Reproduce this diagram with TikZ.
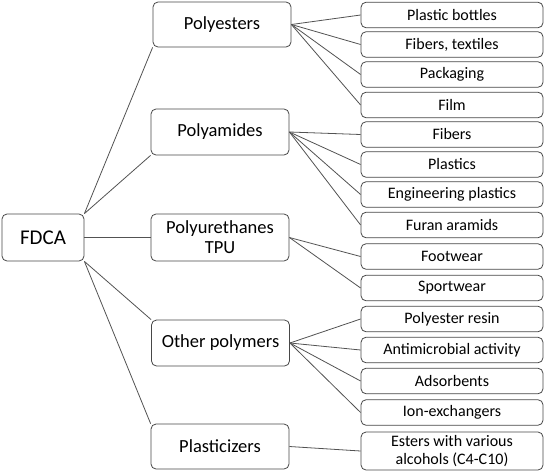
\documentclass[tikz,border=0pt]{standalone}
\usepackage{fontspec}
\setmainfont{Carlito}
\begin{document}
\begin{tikzpicture}[x=1pt,y=-1pt,
  box/.style={draw=black!72, line width=0.8pt, rounded corners=5pt, inner sep=0pt, align=center, text=black},
  root/.style={box, minimum width=82pt, minimum height=47pt, font=\fontsize{21}{24}\selectfont},
  cat/.style={box, minimum width=138pt, minimum height=46pt, font=\fontsize{18.5}{20}\selectfont},
  item/.style={box, minimum width=182pt, minimum height=25.5pt, font=\fontsize{16}{18}\selectfont},
  link/.style={draw=black!68, line width=0.8pt}]
\useasboundingbox (0,0) rectangle (545,471);
\node[root] (fdca) at (43,237.5) {FDCA};
\node[cat, minimum height=45pt] (pes) at (222,24.5) {Polyesters};
\node[cat] (pam) at (220,132) {Polyamides};
\node[cat, minimum height=47pt] (pur) at (220,237.5) {Polyurethanes\\TPU};
\node[cat] (oth) at (220.5,343) {Other polymers};
\node[cat, minimum height=45pt] (pla) at (220,446.5) {Plasticizers};
\node[item] (i1) at (452,15) {Plastic bottles};
\node[item] (i2) at (452,44.5) {Fibers, textiles};
\node[item] (i3) at (452,74.5) {Packaging};
\node[item] (i4) at (452,105) {Film};
\node[item] (i5) at (452,134.5) {Fibers};
\node[item] (i6) at (452,164.5) {Plastics};
\node[item] (i7) at (452,194.5) {Engineering plastics};
\node[item] (i8) at (452,225) {Furan aramids};
\node[item] (i9) at (452,256.5) {Footwear};
\node[item] (i10) at (452,288) {Sportwear};
\node[item] (i11) at (452,319) {Polyester resin};
\node[item] (i12) at (452,350) {Antimicrobial activity};
\node[item] (i13) at (452,381) {Adsorbents};
\node[item] (i14) at (452,412.5) {Ion-exchangers};
\node[item, minimum height=38pt] (i15) at (452,451) {Esters with various\\alcohols (C4-C10)};
\draw[link] (fdca.north east) -- (pes.south west);
\draw[link] (fdca.north east) -- (pam.south west);
\draw[link] (fdca.east) -- (pur.west);
\draw[link] (fdca.south east) -- (oth.north west);
\draw[link] (fdca.south east) -- (pla.north west);
\foreach \i in {1,2,3,4} \draw[link] (pes.east) -- (i\i.west);
\foreach \i in {5,6,7,8} \draw[link] (pam.east) -- (i\i.west);
\foreach \i in {9,10} \draw[link] (pur.east) -- (i\i.west);
\foreach \i in {11,12,13,14} \draw[link] (oth.east) -- (i\i.west);
\draw[link] (pla.east) -- (i15.west);
\end{tikzpicture}
\end{document}
